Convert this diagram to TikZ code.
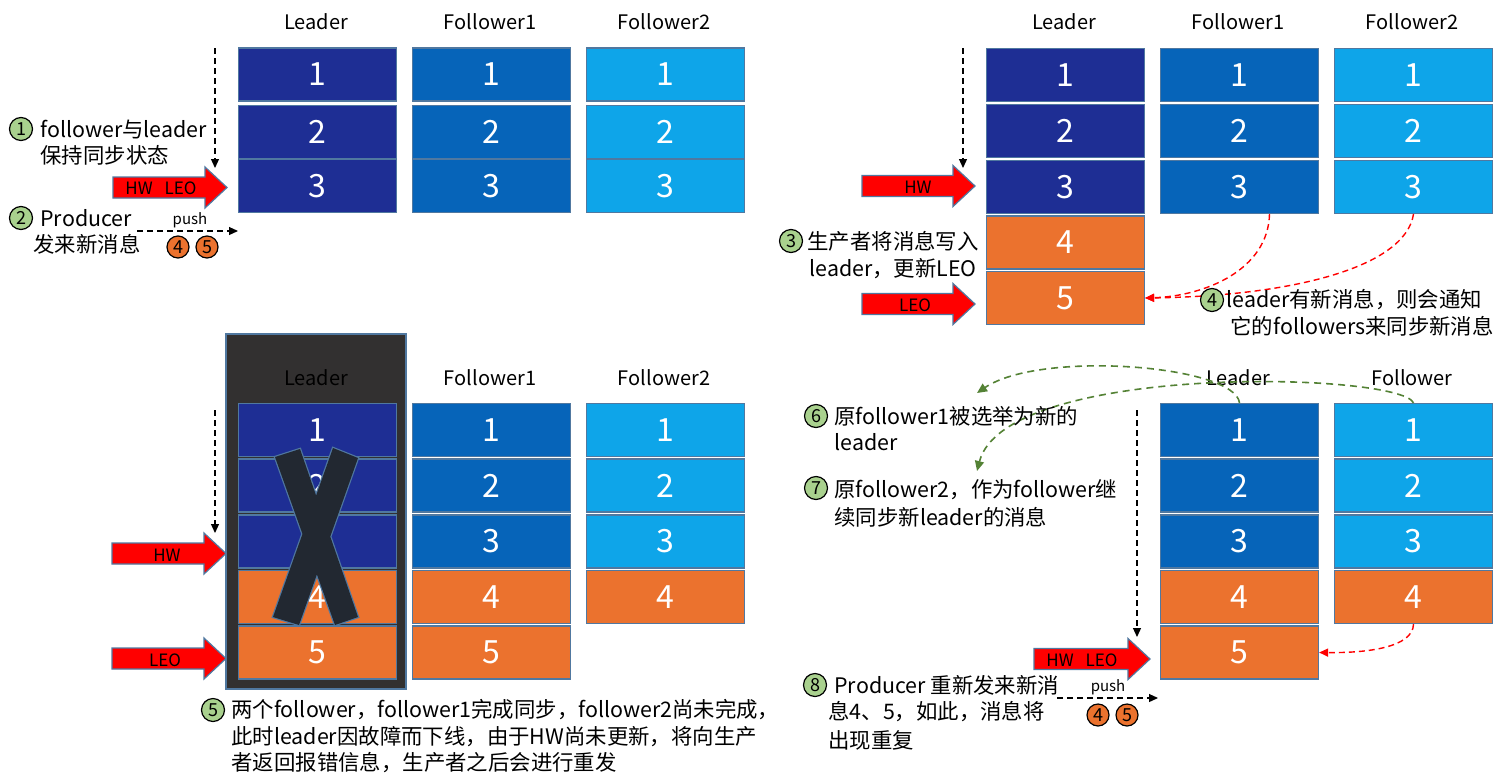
\documentclass[tikz,border=0pt]{standalone}
\usepackage{fontspec}
\setmainfont{Noto Sans CJK SC}
\usetikzlibrary{arrows.meta}
\definecolor{cLead}{RGB}{30,46,148}
\definecolor{cFa}{RGB}{6,100,185}
\definecolor{cFb}{RGB}{14,165,233}
\definecolor{cOr}{RGB}{235,114,46}
\definecolor{cBd}{RGB}{80,120,160}
\definecolor{cDark}{RGB}{50,48,48}
\definecolor{cX}{RGB}{34,40,49}
\definecolor{cGr}{RGB}{169,209,142}
\definecolor{cGd}{RGB}{84,130,53}
\newcommand\blockarr[3]{%
  \path[blk] (#1,{#3-10.5}) -- ({#2-22},{#3-10.5}) -- ({#2-22},{#3-20.5}) -- (#2,#3)
    -- ({#2-22},{#3+20.5}) -- ({#2-22},{#3+10.5}) -- (#1,{#3+10.5}) -- cycle;}
\newcommand\mkcell[5]{\node[cell,fill=#4] (#1) at (#2,#3) {#5};}
\begin{document}
\begin{tikzpicture}[x=0.5pt,y=-0.5pt,
  cell/.style={draw=cBd, line width=0.6pt, minimum width=79pt, minimum height=26.5pt,
    inner sep=0pt, text=white, font=\fontsize{16}{16}\selectfont},
  hdr/.style={font=\fontsize{10}{10}\selectfont, text=black, inner sep=0pt},
  lbl/.style={anchor=west, font=\fontsize{10.7}{10.7}\selectfont, inner sep=0pt},
  gnum/.style={circle, draw=black, line width=0.6pt, fill=cGr, minimum size=11.5pt,
    inner sep=0pt, font=\fontsize{9}{9}\selectfont},
  onum/.style={circle, draw=black, line width=0.6pt, fill=cOr, minimum size=11pt,
    inner sep=0pt, font=\fontsize{9}{9}\selectfont},
  arrtxt/.style={font=\fontsize{8.5}{8.5}\selectfont, inner sep=0pt},
  pushtxt/.style={font=\fontsize{7.5}{7.5}\selectfont, inner sep=0pt},
  blk/.style={fill=red, draw=cBd, line width=0.6pt},
  ptr/.style={draw=black, line width=0.6pt, dash pattern=on 3pt off 2pt,
    -{Triangle[length=4.5pt,width=4pt]}},
  rptr/.style={draw=red, line width=0.7pt, dash pattern=on 3pt off 2pt,
    -{Triangle[length=4.5pt,width=4pt]}},
  gptr/.style={draw=cGd, line width=0.8pt, dash pattern=on 3.5pt off 2.5pt,
    -{Triangle[length=5pt,width=4.5pt]}},
]
\path[fill=white, use as bounding box] (0,0) rectangle (1508,782);

% ================= top-left =================
\node[hdr] (tlh1) at (316,22) {Leader};
\node[hdr] (tlh2) at (490,22) {Follower1};
\node[hdr] (tlh3) at (664,22) {Follower2};
\mkcell{tlL1}{317.5}{74.5}{cLead}{1}
\mkcell{tlL2}{317.5}{132}{cLead}{2}
\mkcell{tlL3}{317.5}{186}{cLead}{3}
\mkcell{tlA1}{491.5}{74.5}{cFa}{1}
\mkcell{tlA2}{491.5}{132}{cFa}{2}
\mkcell{tlA3}{491.5}{186}{cFa}{3}
\mkcell{tlB1}{665.5}{74.5}{cFb}{1}
\mkcell{tlB2}{665.5}{132}{cFb}{2}
\mkcell{tlB3}{665.5}{186}{cFb}{3}
\blockarr{113}{227}{187.5}
\node[arrtxt] (tlarr) at (161,188) {HW\hspace{0.7em}LEO};
\coordinate (tlv0) at (215,48);
\coordinate (tlv1) at (215,168);
\draw[ptr] (tlv0) -- (tlv1);
\node[gnum] (c1) at (21,129) {1};
\node[lbl] (t1a) at (40,129) {follower与leader};
\node[lbl] (t1b) at (40,155) {保持同步状态};
\node[gnum] (c2) at (21,218) {2};
\node[lbl] (t2a) at (40,218) {Producer};
\node[lbl] (t2b) at (33,244) {发来新消息};
\coordinate (tlp0) at (137,231);
\coordinate (tlp1) at (238,231);
\draw[ptr] (tlp0) -- (tlp1);
\node[pushtxt] (tlpush) at (190,220) {push};
\node[onum] (tlo4) at (178,247) {4};
\node[onum] (tlo5) at (207,247) {5};

% ================= top-right =================
\node[hdr] (trh1) at (1064,22) {Leader};
\node[hdr] (trh2) at (1238,22) {Follower1};
\node[hdr] (trh3) at (1412,22) {Follower2};
\mkcell{trL1}{1065.5}{75}{cLead}{1}
\mkcell{trL2}{1065.5}{131}{cLead}{2}
\mkcell{trL3}{1065.5}{187}{cLead}{3}
\mkcell{trL4}{1065.5}{242.5}{cOr}{4}
\mkcell{trL5}{1065.5}{298}{cOr}{5}
\mkcell{trA1}{1239.5}{75}{cFa}{1}
\mkcell{trA2}{1239.5}{131}{cFa}{2}
\mkcell{trA3}{1239.5}{187}{cFa}{3}
\mkcell{trB1}{1413.5}{75}{cFb}{1}
\mkcell{trB2}{1413.5}{131}{cFb}{2}
\mkcell{trB3}{1413.5}{187}{cFb}{3}
\blockarr{862}{975}{186}
\node[arrtxt] (trhw) at (918,187) {HW};
\blockarr{862}{975}{304}
\node[arrtxt] (trleo) at (915,305) {LEO};
\coordinate (trv0) at (963,48);
\coordinate (trv1) at (963,168);
\draw[ptr] (trv0) -- (trv1);
\node[gnum] (c3) at (791,241) {3};
\node[lbl] (t3a) at (807,241) {生产者将消息写入};
\node[lbl] (t3b) at (809,269) {leader，更新LEO};
\draw[rptr] ([xshift=15pt]trA3.south) .. controls (1268,270) and (1205,296) .. (trL5.east);
\draw[rptr] (trB3.south) .. controls (1405,268) and (1290,296) .. (trL5.east);
\node[gnum] (c4) at (1212,300) {4};
\node[lbl] (t4a) at (1226,300) {leader有新消息，则会通知};
\node[lbl, anchor=east] (t4b) at (1494,326) {它的followers来同步新消息};

% ================= bottom-left =================
\node[draw=cBd, line width=0.6pt, fill=cDark, minimum width=90pt, minimum height=177.5pt,
  inner sep=0pt] (blbox) at (316,511.5) {};
\node[hdr] (blh1) at (316,378) {Leader};
\node[hdr] (blh2) at (490,378) {Follower1};
\node[hdr] (blh3) at (664,378) {Follower2};
\mkcell{blL1}{317.5}{430}{cLead}{1}
\mkcell{blL2}{317.5}{485.5}{cLead}{2}
\mkcell{blL3}{317.5}{541.5}{cLead}{3}
\mkcell{blL4}{317.5}{597}{cOr}{4}
\mkcell{blL5}{317.5}{652.5}{cOr}{5}
\mkcell{blA1}{491.5}{430}{cFa}{1}
\mkcell{blA2}{491.5}{485.5}{cFa}{2}
\mkcell{blA3}{491.5}{541.5}{cFa}{3}
\mkcell{blA4}{491.5}{597}{cOr}{4}
\mkcell{blA5}{491.5}{652.5}{cOr}{5}
\mkcell{blB1}{665.5}{430}{cFb}{1}
\mkcell{blB2}{665.5}{485.5}{cFb}{2}
\mkcell{blB3}{665.5}{541.5}{cFb}{3}
\mkcell{blB4}{665.5}{597}{cOr}{4}
% the X
\path[draw=cBd, line width=1.2pt] (275,457)--(300,449)--(358,617)--(335,625)--cycle
  (333,448)--(358,458)--(299,625)--(273,617)--cycle;
\path[fill=cX] (275,457)--(300,449)--(358,617)--(335,625)--cycle
  (333,448)--(358,458)--(299,625)--(273,617)--cycle;
\blockarr{112}{226}{553.5}
\node[arrtxt] (blhw) at (167,555) {HW};
\blockarr{112}{226}{658.5}
\node[arrtxt] (blleo) at (165,660) {LEO};
\coordinate (blv0) at (215,410);
\coordinate (blv1) at (215,533);
\draw[ptr] (blv0) -- (blv1);
\node[gnum] (c5) at (213,710) {5};
\node[lbl] (t5a) at (231,710) {两个follower，follower1完成同步，follower2尚未完成，};
\node[lbl] (t5b) at (231,737) {此时leader因故障而下线，由于HW尚未更新，将向生产};
\node[lbl] (t5c) at (231,763) {者返回报错信息，生产者之后会进行重发};

% ================= bottom-right =================
\node[hdr] (brh1) at (1238,378) {Leader};
\node[hdr] (brh2) at (1412,378) {Follower};
\mkcell{brL1}{1239.5}{430}{cFa}{1}
\mkcell{brL2}{1239.5}{485.5}{cFa}{2}
\mkcell{brL3}{1239.5}{541.5}{cFa}{3}
\mkcell{brL4}{1239.5}{597}{cOr}{4}
\mkcell{brL5}{1239.5}{652.5}{cOr}{5}
\mkcell{brB1}{1413.5}{430}{cFb}{1}
\mkcell{brB2}{1413.5}{485.5}{cFb}{2}
\mkcell{brB3}{1413.5}{541.5}{cFb}{3}
\mkcell{brB4}{1413.5}{597}{cOr}{4}
\blockarr{1034}{1150}{659}
\node[arrtxt] (brarr) at (1082,660) {HW\hspace{0.7em}LEO};
\coordinate (brv0) at (1137,410);
\coordinate (brv1) at (1137,637);
\draw[ptr] (brv0) -- (brv1);
\draw[rptr] (brB4.south) .. controls (1413,648) and (1365,653) .. (brL5.east);
\coordinate (g6) at (977,393);
\coordinate (g7) at (977,471);
\draw[gptr] (brL1.north) .. controls (1235,365) and (1040,350) .. (g6);
\draw[gptr] (brB1.north) .. controls (1400,372) and (1005,362) .. (g7);
\node[gnum] (c6) at (816,416) {6};
\node[lbl] (t6a) at (834,416) {原follower1被选举为新的};
\node[lbl] (t6b) at (834,442) {leader};
\node[gnum] (c7) at (816,488) {7};
\node[lbl] (t7a) at (834,490) {原follower2，作为follower继};
\node[lbl] (t7b) at (834,517) {续同步新leader的消息};
\node[gnum] (c8) at (815,685) {8};
\node[lbl] (t8a) at (834,685) {Producer 重新发来新消};
\node[lbl] (t8b) at (828,712) {息4、5，如此，消息将};
\node[lbl] (t8c) at (828,740) {出现重复};
\coordinate (brp0) at (1057,698);
\coordinate (brp1) at (1158,698);
\draw[ptr] (brp0) -- (brp1);
\node[pushtxt] (brpush) at (1108,687) {push};
\node[onum] (bro4) at (1098,715) {4};
\node[onum] (bro5) at (1127,715) {5};
\end{tikzpicture}
\end{document}
